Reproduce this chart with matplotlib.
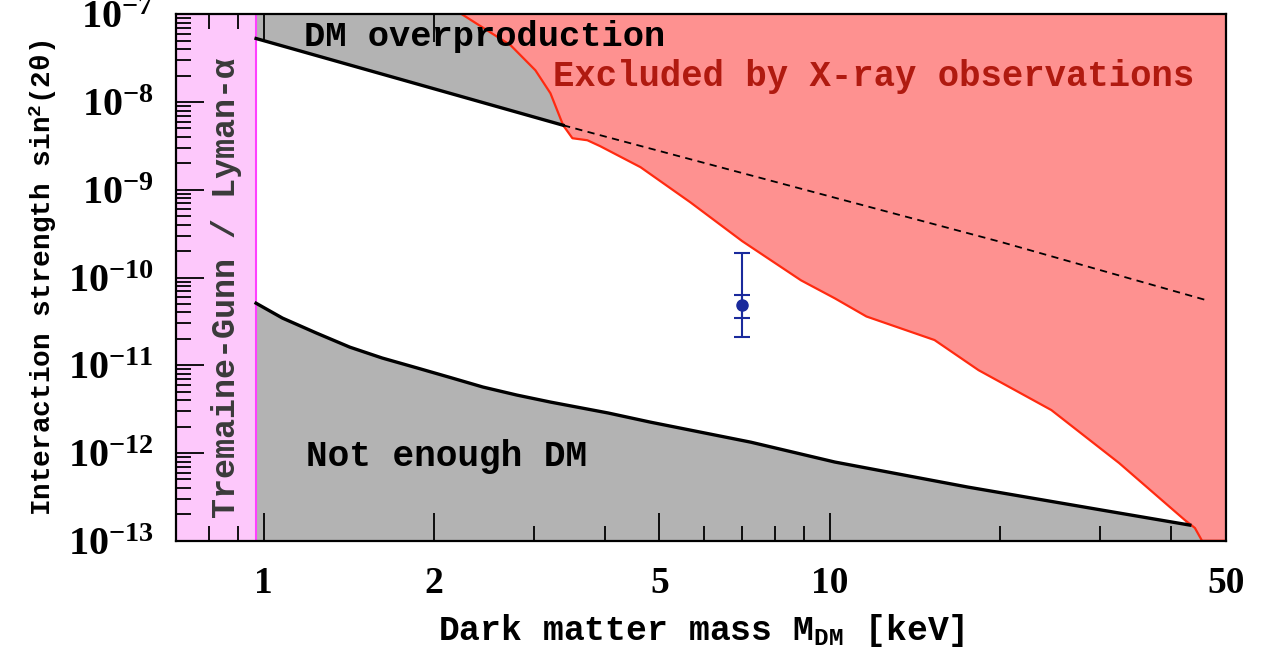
import matplotlib
matplotlib.use('Agg')
import matplotlib.pyplot as plt
from matplotlib.ticker import LogLocator, NullFormatter

# tick numbers in bold serif, labels in bold mono
plt.rcParams['font.family'] = 'Liberation Serif'
plt.rcParams['font.weight'] = 'bold'
plt.rcParams['mathtext.fontset'] = 'custom'
plt.rcParams['mathtext.rm'] = 'Liberation Serif:bold'
plt.rcParams['mathtext.it'] = 'Liberation Serif:bold'
plt.rcParams['mathtext.bf'] = 'Liberation Serif:bold'
plt.rcParams['mathtext.tt'] = 'Liberation Mono:bold'

# Tremaine-Gunn / Lyman-alpha lower mass bound (keV)
tg_mass = 0.97

# DM overproduction boundary (solid part, then dashed continuation)
over_mass = [0.97, 3.38]
over_sin = [5.3e-8, 5.44e-9]
over_dash_mass = [3.38, 3.93, 20.1, 46.3]
over_dash_sin = [5.44e-9, 4.19e-9, 2.53e-10, 5.5e-11]

# "Not enough DM" boundary
low_mass = [0.97, 1.08, 1.24, 1.42, 1.62, 1.87, 2.13, 2.44, 2.80, 3.21,
            4.06, 4.82, 7.25, 10.2, 17.5, 30.2, 43.2]
low_sin = [5.1e-11, 3.45e-11, 2.33e-11, 1.61e-11, 1.21e-11, 9.3e-12, 7.3e-12,
           5.65e-12, 4.58e-12, 3.81e-12, 2.86e-12, 2.25e-12, 1.33e-12,
           7.9e-13, 4.1e-13, 2.24e-13, 1.51e-13]

# X-ray exclusion boundary
xray_mass = [2.24, 2.73, 3.02, 3.21, 3.38, 3.51, 3.73, 3.93, 4.63, 5.67,
             7.0, 8.89, 10.2, 11.6, 15.3, 18.3, 24.6, 32.4, 42.3, 44.1, 45.4, 50]
xray_sin = [1e-7, 4.44e-8, 2.30e-8, 1.26e-8, 5.44e-9, 3.87e-9, 3.67e-9, 3.14e-9,
            1.81e-9, 7.2e-10, 2.6e-10, 9.3e-11, 5.8e-11, 3.6e-11, 1.94e-11,
            8.8e-12, 3.09e-12, 7.7e-13, 1.73e-13, 1.40e-13, 1e-13, 1e-13]

# 3.5 keV line measurement
pt_mass = 7.0
pt_sin = 4.9e-11
pt_inner = (3.5e-11, 6.4e-11)
pt_outer = (2.1e-11, 1.9e-10)

x_ticks = [1, 2, 5, 10, 50]
x_ticklabels = ['1', '2', '5', '10', '50']

grey = '#b3b3b3'
fig = plt.figure(figsize=(12.65, 6.5), dpi=100)
ax = fig.add_axes([0.139, 0.168, 0.830, 0.810])
ax.set_xscale('log')
ax.set_yscale('log')
ax.set_xlim(0.7, 50)
ax.set_ylim(1e-13, 1e-7)

# shaded regions
ax.axvspan(0.7, tg_mass, color='#fdc8fb', zorder=1, lw=0)
ax.axvline(tg_mass, color='#ff40ff', lw=1.5, zorder=2)
ax.fill_between(over_mass, over_sin, 1e-7, color=grey, lw=0, zorder=1)
ax.fill_between(low_mass, low_sin, 1e-13, color=grey, lw=0, zorder=1)
ax.fill_between(xray_mass[-4:], xray_sin[-4:], 1e-13, color=grey, lw=0, zorder=1)
ax.fill_between(xray_mass, xray_sin, 1e-7, color='#fe9190', lw=0, zorder=2)

# boundaries
ax.plot(xray_mass, xray_sin, color='#ff2a10', lw=1.6, zorder=3)
ax.plot(over_mass, over_sin, color='black', lw=2.4, zorder=4)
ax.plot(over_dash_mass, over_dash_sin, color='black', lw=1.3, ls=(0, (4, 3)), zorder=4)
ax.plot(low_mass, low_sin, color='black', lw=2.4, zorder=4)

# data point with two error bars
blue = '#1a2a9c'
ax.errorbar([pt_mass], [pt_sin],
            yerr=[[pt_sin - pt_outer[0]], [pt_outer[1] - pt_sin]],
            fmt='none', ecolor=blue, elinewidth=1.5, capsize=6, capthick=1.5, zorder=5)
ax.errorbar([pt_mass], [pt_sin],
            yerr=[[pt_sin - pt_inner[0]], [pt_inner[1] - pt_sin]],
            fmt='o', color=blue, ms=8, elinewidth=1.5, capsize=6, capthick=1.5, zorder=5)

# region labels
mono = dict(family='Liberation Mono', weight='bold')
ax.text(1.18, 5.6e-8, 'DM overproduction', color='black', ha='left', va='center',
        zorder=6, fontsize=25.5, **mono)
ax.text(3.25, 1.97e-8, 'Excluded by X-ray observations', color='#b01a10',
        ha='left', va='center', zorder=6, fontsize=25.7, **mono)
ax.text(1.19, 9.2e-13, 'Not enough DM', color='black', ha='left', va='center',
        zorder=6, fontsize=26, **mono)
ax.text(0.86, 7.6e-11, 'Tremaine-Gunn / Lyman-α', color='#3a3a3a', rotation=90,
        ha='center', va='center', zorder=6, fontsize=24, **mono)

# axes styling
ax.set_xticks(x_ticks)
ax.set_xticklabels(x_ticklabels)
ax.xaxis.set_minor_locator(LogLocator(base=10, subs=range(2, 10)))
ax.xaxis.set_minor_formatter(NullFormatter())
ax.yaxis.set_major_locator(LogLocator(base=10, numticks=10))
ax.yaxis.set_minor_locator(LogLocator(base=10, subs=range(2, 10), numticks=10))
ax.yaxis.set_minor_formatter(NullFormatter())
ax.tick_params(which='both', direction='in', top=True, right=True, color='black')
ax.tick_params(which='major', length=20, width=1.3)
ax.tick_params(which='minor', length=11, width=1.3)
ax.tick_params(axis='x', which='major', pad=18, labelsize=27)
ax.tick_params(axis='y', which='major', pad=16, labelsize=29)
for s in ax.spines.values():
    s.set_linewidth(1.6)
    s.set_zorder(8)

ax.set_xlabel('Dark matter mass M$_{\\mathtt{DM}}$ [keV]', fontsize=25,
              labelpad=8, **mono)
ax.set_ylabel('Interaction strength sin$^{\\mathtt{2}}$(2θ)', fontsize=20,
              labelpad=6, **mono)

fig.savefig('out.png', dpi=100)
